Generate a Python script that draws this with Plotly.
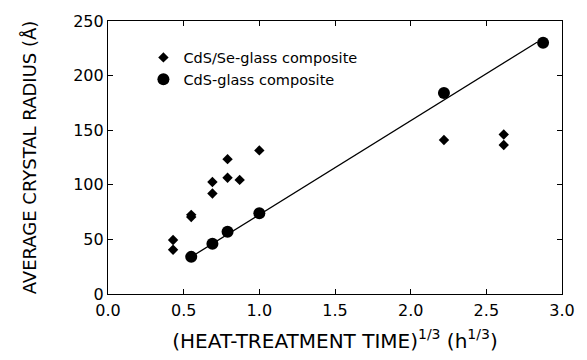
import plotly.graph_objects as go

# CdS/Se-glass composite (diamonds)
se_x = [0.43, 0.43, 0.55, 0.55, 0.69, 0.69, 0.79, 0.79, 0.87, 1.0, 2.22, 2.615, 2.615]
se_y = [49.5, 40.5, 72.5, 70.5, 92, 102.5, 123.5, 106.5, 104.5, 131.5, 141, 146, 136.5]

# CdS-glass composite (circles)
cds_x = [0.55, 0.69, 0.79, 1.0, 2.22, 2.875]
cds_y = [34, 46, 57, 74, 184, 230]

# linear fit line end points
fit_x = [0.55, 2.835]
fit_y = [34, 230.5]

x_ticks = [0.0, 0.5, 1.0, 1.5, 2.0, 2.5, 3.0]
y_ticks = [0, 50, 100, 150, 200, 250]

FONT = "DejaVu Sans"

fig = go.Figure()
fig.add_trace(go.Scatter(x=se_x, y=se_y, mode="markers", name="CdS/Se-glass composite",
                         marker=dict(symbol="diamond", size=8, color="black")))
fig.add_trace(go.Scatter(x=cds_x, y=cds_y, mode="markers", name="CdS-glass composite",
                         marker=dict(symbol="circle", size=12, color="black")))
fig.add_trace(go.Scatter(x=fit_x, y=fit_y, mode="lines", showlegend=False,
                         line=dict(color="black", width=1.3)))

axis_common = dict(showline=True, linecolor="black", linewidth=1.2, mirror="ticks",
                   ticks="inside", ticklen=5, tickwidth=1, tickcolor="black",
                   showgrid=False, zeroline=False,
                   tickfont=dict(family=FONT, size=16, color="black"))

fig.update_xaxes(range=[0, 3], tickvals=x_ticks, ticktext=[f"{v:.1f}" for v in x_ticks],
                 ticklabelstandoff=2,
                 title=dict(text="(HEAT-TREATMENT TIME)<sup>1/3</sup> (h<sup>1/3</sup>)",
                            font=dict(family=FONT, size=20, color="black"), standoff=14),
                 **axis_common)
fig.update_yaxes(range=[0, 250], tickvals=y_ticks,
                 title=dict(text="AVERAGE CRYSTAL RADIUS (Å)",
                            font=dict(family=FONT, size=18, color="black"), standoff=31),
                 **axis_common)

fig.update_layout(
    width=587, height=360,
    margin=dict(l=108, r=15, t=16, b=66),
    plot_bgcolor="white", paper_bgcolor="white",
    font=dict(family=FONT, color="black"),
    legend=dict(x=0.078, y=0.925, xanchor="left", yanchor="top",
                font=dict(family=FONT, size=14.5, color="black"),
                bgcolor="rgba(0,0,0,0)", tracegroupgap=0, itemwidth=30),
)

fig.write_html("out.html")
